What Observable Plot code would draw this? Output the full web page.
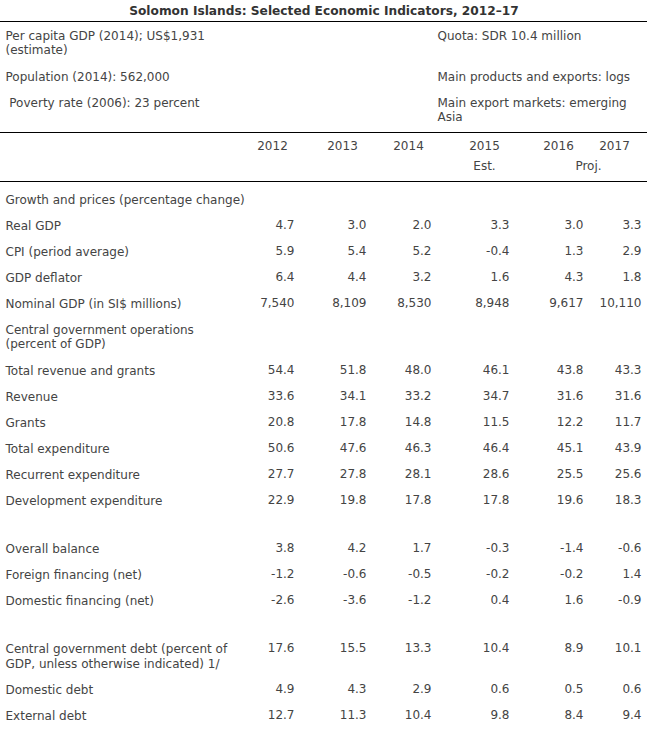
<!DOCTYPE html>
<html><head><meta charset="utf-8">
<script src="https://cdn.jsdelivr.net/npm/d3@7"></script>
<script src="https://cdn.jsdelivr.net/npm/@observablehq/plot@0.6"></script>
<style>body{margin:0;background:#fff;} #chart svg{display:block;}</style>
</head><body><div id="chart"></div>
<script>
// ---------- data ----------
const title = "Solomon Islands: Selected Economic Indicators, 2012\u201317";
const infoLeft = ["Per capita GDP (2014); US$1,931\n(estimate)", "Population (2014): 562,000", "\u00a0Poverty rate (2006): 23 percent"];
const infoRight = ["Quota: SDR 10.4 million", "Main products and exports: logs", "Main export markets: emerging\nAsia"];
const years = ["2012", "2013", "2014", "2015", "2016", "2017"];
const yearNotes = [{text: "Est.", from: "2015", to: "2015"}, {text: "Proj.", from: "2016", to: "2017"}];

const realGDP = [4.7, 3.0, 2.0, 3.3, 3.0, 3.3];
const cpi = [5.9, 5.4, 5.2, -0.4, 1.3, 2.9];
const gdpDeflator = [6.4, 4.4, 3.2, 1.6, 4.3, 1.8];
const nominalGDP = [7540, 8109, 8530, 8948, 9617, 10110];
const totalRevenueGrants = [54.4, 51.8, 48.0, 46.1, 43.8, 43.3];
const revenue = [33.6, 34.1, 33.2, 34.7, 31.6, 31.6];
const grants = [20.8, 17.8, 14.8, 11.5, 12.2, 11.7];
const totalExpenditure = [50.6, 47.6, 46.3, 46.4, 45.1, 43.9];
const recurrentExpenditure = [27.7, 27.8, 28.1, 28.6, 25.5, 25.6];
const developmentExpenditure = [22.9, 19.8, 17.8, 17.8, 19.6, 18.3];
const overallBalance = [3.8, 4.2, 1.7, -0.3, -1.4, -0.6];
const foreignFinancing = [-1.2, -0.6, -0.5, -0.2, -0.2, 1.4];
const domesticFinancing = [-2.6, -3.6, -1.2, 0.4, 1.6, -0.9];
const govDebt = [17.6, 15.5, 13.3, 10.4, 8.9, 10.1];
const domesticDebt = [4.9, 4.3, 2.9, 0.6, 0.5, 0.6];
const externalDebt = [12.7, 11.3, 10.4, 9.8, 8.4, 9.4];

const rows = [
  {label: "Growth and prices (percentage change)"},
  {label: "Real GDP", values: realGDP},
  {label: "CPI (period average)", values: cpi},
  {label: "GDP deflator", values: gdpDeflator},
  {label: "Nominal GDP (in SI$ millions)", values: nominalGDP, integer: true},
  {label: "Central government operations\n(percent of GDP)"},
  {label: "Total revenue and grants", values: totalRevenueGrants},
  {label: "Revenue", values: revenue},
  {label: "Grants", values: grants},
  {label: "Total expenditure", values: totalExpenditure},
  {label: "Recurrent expenditure", values: recurrentExpenditure},
  {label: "Development expenditure", values: developmentExpenditure},
  {blank: true},
  {label: "Overall balance", values: overallBalance},
  {label: "Foreign financing (net)", values: foreignFinancing},
  {label: "Domestic financing (net)", values: domesticFinancing},
  {blank: true},
  {label: "Central government debt (percent of\nGDP, unless otherwise indicated) 1/", values: govDebt},
  {label: "Domestic debt", values: domesticDebt},
  {label: "External debt", values: externalDebt}
];

// ---------- layout ----------
const W = 647, H = 754;
const FS = 12, LH = 1.2;
const L = {
  labelX: 5, infoRightX: 437,
  valueRight: [294, 366, 431, 509, 583, 641],
  headerCenter: [272, 342, 408, 484, 558, 614],
  titleY: 11, rules: [21, 132, 181],
  infoY: [35, 76, 102], yearY: 146, noteY: 166,
  firstRowY: 199, rowStep: 26, extraLine: 14.5, blankStep: 22.3
};

// compute row positions (centre of first line)
let cur = L.firstRowY;
const placed = [];
for (const r of rows) {
  if (r.blank) { cur += L.blankStep; continue; }
  const n = r.label.split("\n").length;
  placed.push({...r, y: cur, n});
  cur += L.rowStep + (n - 1) * L.extraLine;
}
const lineOffset = n => (n - 1) * FS * LH / 2;
const fmt = (v, integer) => integer ? d3.format(",")(v) : v.toFixed(1);
const cells = placed.filter(r => r.values).flatMap(r => r.values.map((v, i) => ({
  x: L.valueRight[i], y: r.y, text: fmt(v, r.integer)
})));
const colX = y => L.headerCenter[years.indexOf(y)];

const chart = Plot.plot({
  width: W, height: H, margin: 0,
  x: {domain: [0, W], range: [0, W], axis: null},
  y: {domain: [0, H], range: [0, H], axis: null},
  style: {fontFamily: "'DejaVu Sans', Verdana, sans-serif", fontSize: FS + "px", background: "#fff", color: "#444"},
  marks: [
    Plot.ruleY(L.rules, {stroke: "#000", strokeWidth: 1}),
    Plot.text([title], {x: W / 2, y: L.titleY, text: d => d, fontWeight: "bold", fill: "#333", fontSize: 12.2}),
    Plot.text(infoLeft, {x: L.labelX, y: (d, i) => L.infoY[i] + lineOffset(d.split("\n").length), text: d => d, textAnchor: "start", lineHeight: LH, fill: "#444"}),
    Plot.text(infoRight, {x: L.infoRightX, y: (d, i) => L.infoY[i] + lineOffset(d.split("\n").length), text: d => d, textAnchor: "start", lineHeight: LH, fill: "#444"}),
    Plot.text(years, {x: d => colX(d), y: L.yearY, text: d => d, fill: "#444"}),
    Plot.text(yearNotes, {x: d => (colX(d.from) + colX(d.to)) / 2 + (d.from === d.to ? 0 : 2), y: L.noteY, text: "text", fill: "#444"}),
    Plot.text(placed, {x: L.labelX, y: d => d.y + lineOffset(d.n), text: "label", textAnchor: "start", lineHeight: LH, fill: "#444"}),
    Plot.text(cells, {x: "x", y: "y", text: "text", textAnchor: "end", fill: "#444"})
  ]
});
document.getElementById("chart").appendChild(chart);
</script>
</body></html>
